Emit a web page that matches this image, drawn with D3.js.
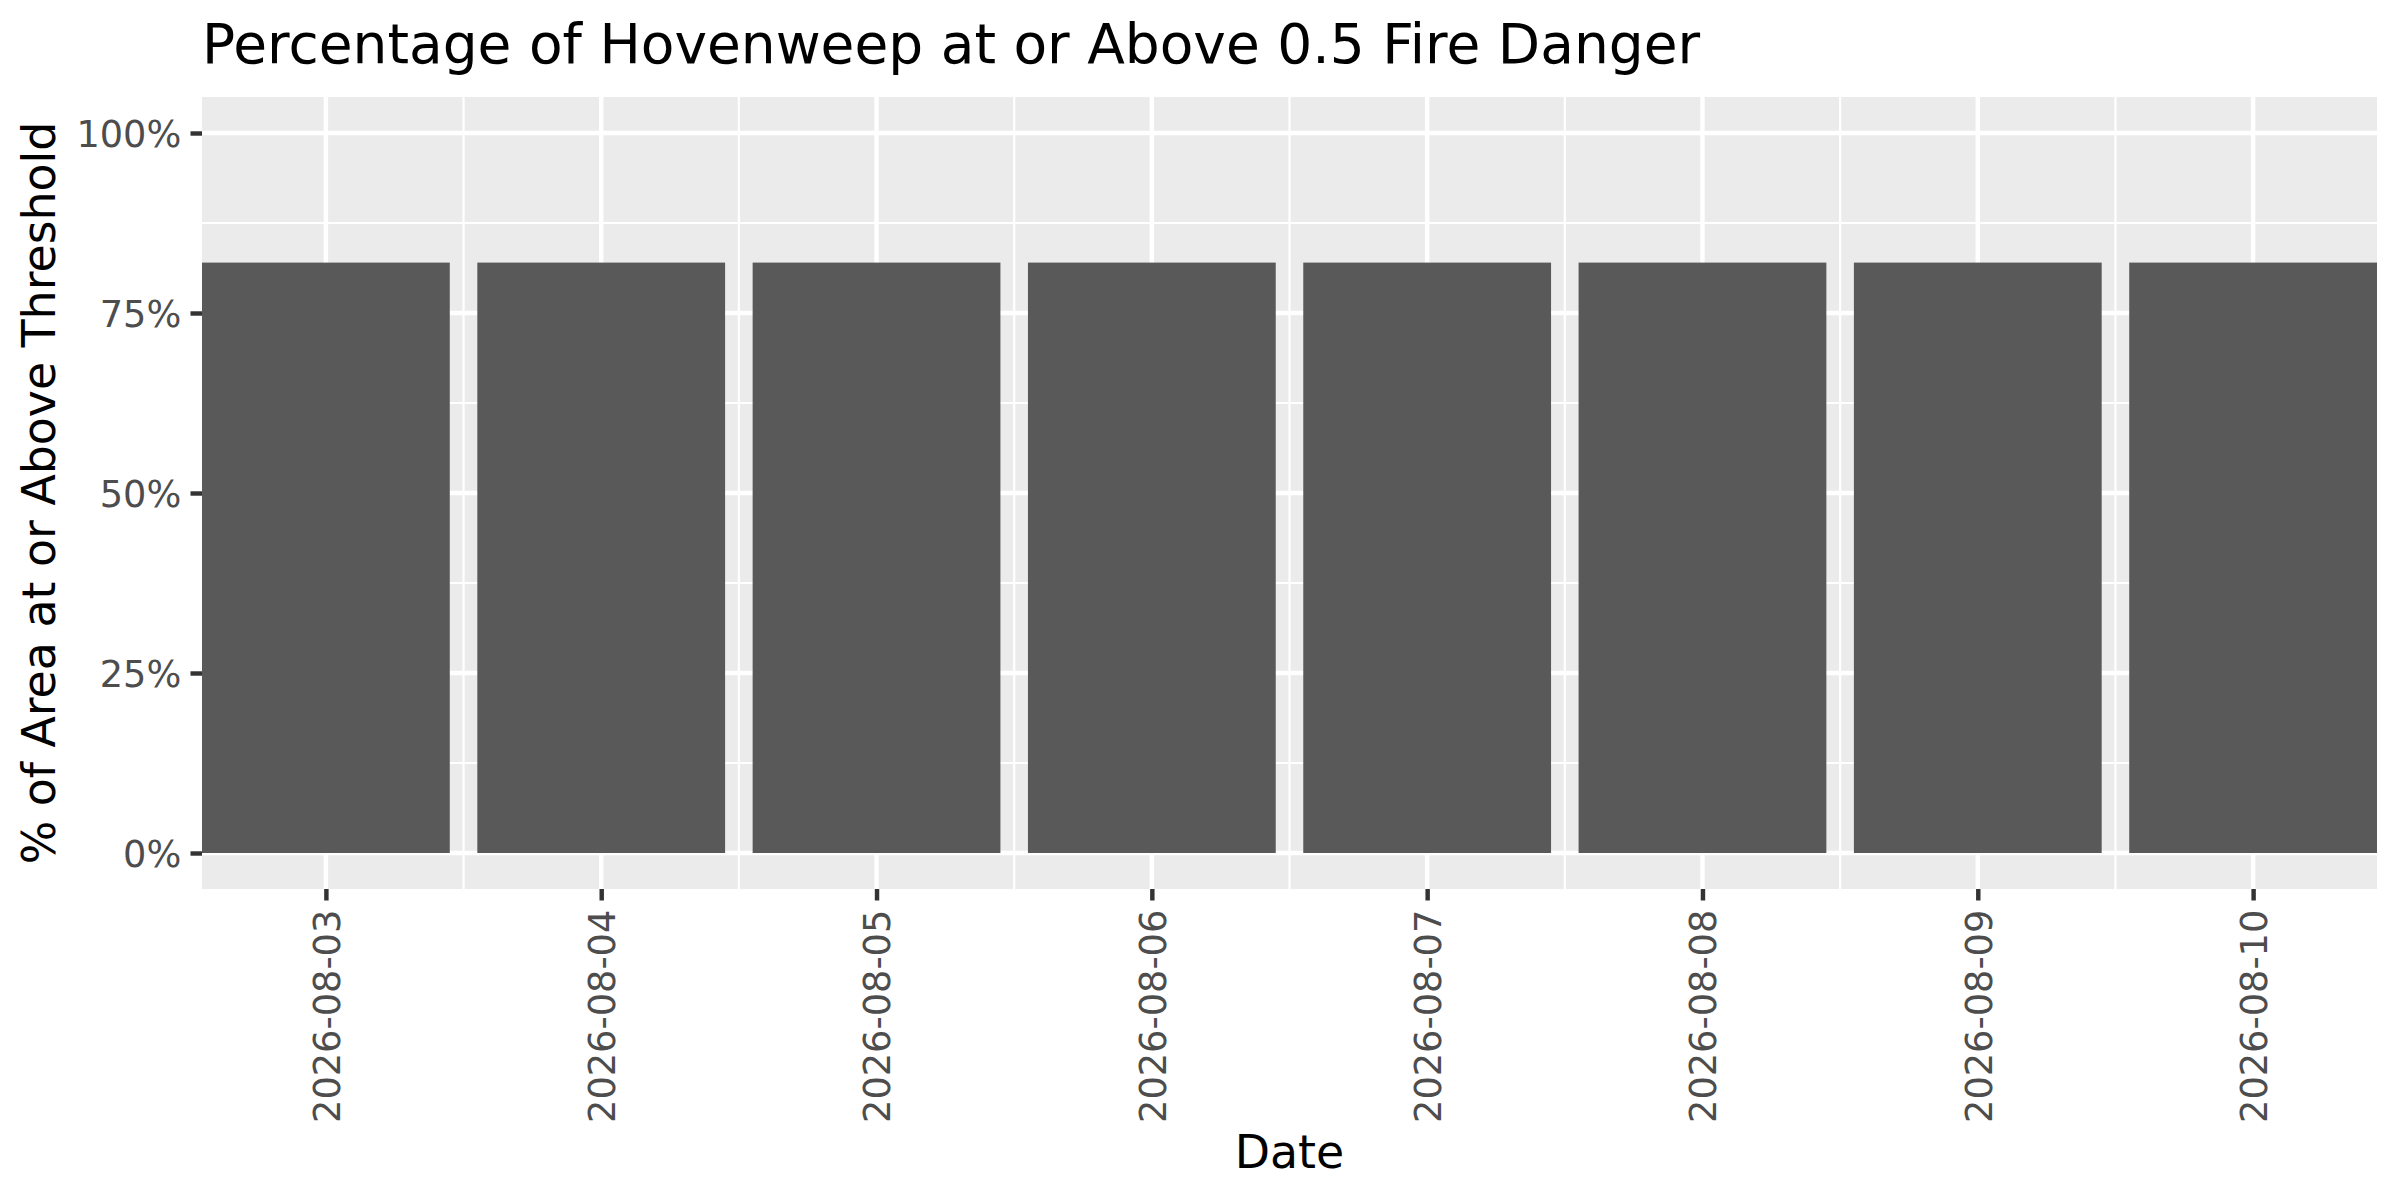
<!DOCTYPE html>
<html>
<head>
<meta charset="utf-8">
<script src="https://cdn.jsdelivr.net/npm/d3@7"></script>
<style>
  html, body { margin: 0; padding: 0; background: #ffffff; }
  svg { display: block; }
  text { font-family: "DejaVu Sans", sans-serif; }
</style>
</head>
<body>
<svg id="chart" width="2400" height="1200"></svg>
<script>
// ---- data ----
const dates = ["2026-08-03", "2026-08-04", "2026-08-05", "2026-08-06",
               "2026-08-07", "2026-08-08", "2026-08-09", "2026-08-10"];
const pctAbove = [0.82, 0.82, 0.82, 0.82, 0.82, 0.82, 0.82, 0.82];
const yTickValues = [0, 0.25, 0.5, 0.75, 1];
const yTickLabels = ["0%", "25%", "50%", "75%", "100%"];
const yMinorValues = [0.125, 0.375, 0.625, 0.875];
const titleText = "Percentage of Hovenweep at or Above 0.5 Fire Danger";
const xTitleText = "Date";
const yTitleText = "% of Area at or Above Threshold";

// ---- layout ----
const W = 2400, H = 1200;
const panel = { left: 202, right: 2377, top: 97, bottom: 889 };
const DAY = 86400000;
const parse = d3.utcParse("%Y-%m-%d");
const fmt = d3.utcFormat("%Y-%m-%d");
const data = dates.map((d, i) => ({ date: parse(d), value: pctAbove[i] }));

const barHalf = 0.45 * DAY;
const x = d3.scaleUtc()
  .domain([+data[0].date - barHalf, +data[data.length - 1].date + barHalf])
  .range([panel.left, panel.right]);
const y = d3.scaleLinear()
  .domain([-0.05, 1.05])
  .range([panel.bottom, panel.top]);

const majorLW = 4.45, minorLW = 2.22;
const svg = d3.select("#chart");

// panel background
svg.append("rect")
  .attr("x", panel.left).attr("y", panel.top)
  .attr("width", panel.right - panel.left)
  .attr("height", panel.bottom - panel.top)
  .attr("fill", "#EBEBEB");

const grid = svg.append("g");
// minor x gridlines (half days between dates)
const xMinor = data.slice(0, -1).map(d => new Date(+d.date + DAY / 2));
grid.selectAll(".xminor").data(xMinor).enter().append("line")
  .attr("x1", d => x(d)).attr("x2", d => x(d))
  .attr("y1", panel.top).attr("y2", panel.bottom)
  .attr("stroke", "#ffffff").attr("stroke-width", minorLW);
// minor y gridlines
grid.selectAll(".yminor").data(yMinorValues).enter().append("line")
  .attr("x1", panel.left).attr("x2", panel.right)
  .attr("y1", d => y(d)).attr("y2", d => y(d))
  .attr("stroke", "#ffffff").attr("stroke-width", minorLW);
// major x gridlines
grid.selectAll(".xmajor").data(data).enter().append("line")
  .attr("x1", d => x(d.date)).attr("x2", d => x(d.date))
  .attr("y1", panel.top).attr("y2", panel.bottom)
  .attr("stroke", "#ffffff").attr("stroke-width", majorLW);
// major y gridlines
grid.selectAll(".ymajor").data(yTickValues).enter().append("line")
  .attr("x1", panel.left).attr("x2", panel.right)
  .attr("y1", d => y(d)).attr("y2", d => y(d))
  .attr("stroke", "#ffffff").attr("stroke-width", majorLW);

// bars
svg.append("g").selectAll("rect").data(data).enter().append("rect")
  .attr("x", d => x(+d.date - barHalf))
  .attr("width", d => x(+d.date + barHalf) - x(+d.date - barHalf))
  .attr("y", d => y(d.value))
  .attr("height", d => y(0) - y(d.value))
  .attr("fill", "#595959");

const tickLen = 11.5, tickPad = 9.2, axisFont = 36.7;

// y axis
const yAxis = d3.axisLeft(y)
  .tickValues(yTickValues)
  .tickFormat((d, i) => yTickLabels[i])
  .tickSize(tickLen).tickPadding(tickPad);
const gy = svg.append("g").attr("transform", `translate(${panel.left},0)`).call(yAxis);
gy.select(".domain").remove();
gy.selectAll(".tick line").attr("stroke", "#333333").attr("stroke-width", majorLW);
gy.selectAll(".tick text")
  .attr("fill", "#4D4D4D").attr("font-size", axisFont)
  .attr("font-family", "DejaVu Sans").attr("dy", "0.36em");

// x axis
const xAxis = d3.axisBottom(x)
  .tickValues(data.map(d => d.date))
  .tickFormat(fmt)
  .tickSize(tickLen).tickPadding(tickPad);
const gx = svg.append("g").attr("transform", `translate(0,${panel.bottom})`).call(xAxis);
gx.select(".domain").remove();
gx.selectAll(".tick line").attr("stroke", "#333333").attr("stroke-width", majorLW);
gx.selectAll(".tick text")
  .attr("fill", "#4D4D4D").attr("font-size", axisFont)
  .attr("font-family", "DejaVu Sans")
  .attr("transform", "rotate(-90)")
  .attr("text-anchor", "end")
  .attr("x", -(tickLen + tickPad))
  .attr("y", 0)
  .attr("dy", "0.36em");

// titles
svg.append("text")
  .attr("x", panel.left).attr("y", 63)
  .attr("font-size", 55).attr("fill", "#000000")
  .text(titleText);
svg.append("text")
  .attr("x", (panel.left + panel.right) / 2).attr("y", 1168)
  .attr("text-anchor", "middle")
  .attr("font-size", 45.8).attr("fill", "#000000")
  .text(xTitleText);
svg.append("text")
  .attr("transform", `translate(55,${(panel.top + panel.bottom) / 2}) rotate(-90)`)
  .attr("text-anchor", "middle")
  .attr("font-size", 45.8).attr("fill", "#000000")
  .text(yTitleText);
</script>
</body>
</html>
